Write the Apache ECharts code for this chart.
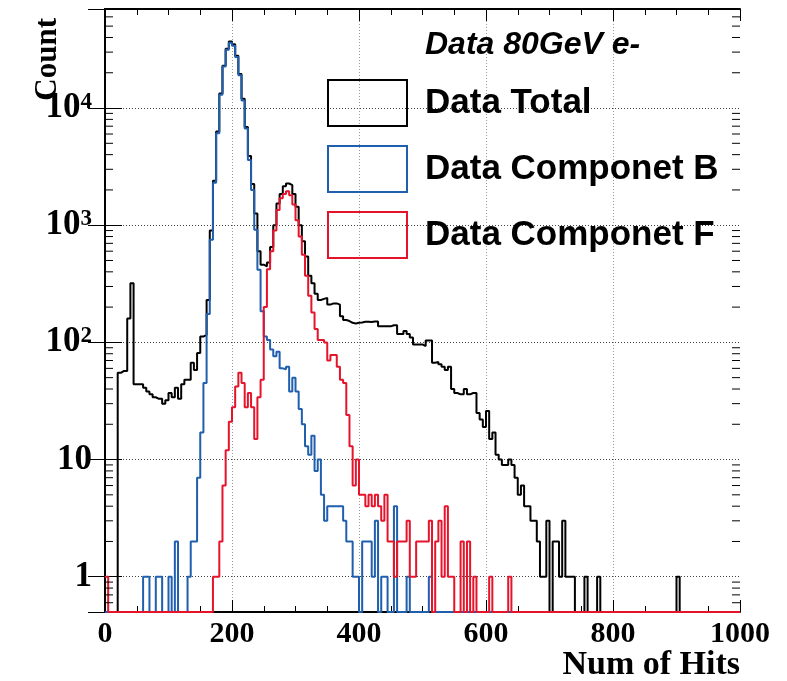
<!DOCTYPE html>
<html>
<head>
<meta charset="utf-8">
<script src="https://cdn.jsdelivr.net/npm/echarts@6/dist/echarts.min.js"></script>
<style>html,body{margin:0;padding:0;background:#fff}#c{width:787px;height:681px}</style>
</head>
<body>
<div id="c"></div>
<script>
// ---- data: 200 bins of width 5 from 0 to 1000 ----
const binWidth = 5;
const binStarts = [];
for (let i = 0; i < 200; i++) binStarts.push(i * binWidth);

const totalCounts = [
  0,0,0,0,55,57,57,160,320,44, 44,44,41,38,36,34,33,33,30,32,
  37,34,41,33,44,48,48,67,58,81, 112,116,230,900,2400,6300,13300,23000,32000,37000,
  35000,28000,19500,12000,6900,3900,2250,1260,600,460, 445,480,650,1000,1530,1850,2150,2270,2200,1850,
  1440,1000,730,540,370,320,260,230,235,240, 210,215,215,210,167,155,152,147,145,147,
  148,150,150,149,151,151,137,137,137,137, 140,140,118,118,125,118,110,96,96,96,
  93,104,104,67,68,65,62,58,62,40, 37,36,36,40,36,37,37,25,22,19,
  26,15,17,11,10,9,9,10,9,7, 5,6,4,4,3,3,2,1,1,3,
  0,2,2,1,3,1,1,1,0,0, 0,1,0,0,0,1,0,0,0,0,
  0,0,0,0,0,0,0,0,0,0, 0,0,0,0,0,0,0,0,0,0,
  1,0,0,0,0,0,0,0,0,0, 0,0,0,0,0,0,0,0,0,0
];
const compBCounts = [
  0,0,0,0,0,0,0,0,0,0, 0,0,1,1,0,0,1,1,0,0,
  1,0,2,0,0,0,1,2,2,7, 17,45,175,750,2300,6100,13000,22600,31400,36000,
  34000,27200,19000,11600,6680,3600,2000,913,417,184, 112,105,87,76,83,60,59,62,38,50,
  38,27,20,13,11,16,8,10,5,3, 4,4,4,4,4,3,2,2,1,1,
  0,2,2,2,1,3,0,1,1,0, 0,4,0,0,0,1,0,0,0,0,
  0,0,1,0,0,0,0,0,0,0, 0,0,0,0,0,0,0,0,0,0,
  0,0,0,0,0,0,0,0,0,0, 0,0,0,0,0,0,0,0,0,0,
  0,0,0,0,0,0,0,0,0,0, 0,0,0,0,0,0,0,0,0,0,
  0,0,0,0,0,0,0,0,0,0, 0,0,0,0,0,0,0,0,0,0,
  0,0,0,0,0,0,0,0,0,0, 0,0,0,0,0,0,0,0,0,0
];
const compFCounts = [
  1,0,0,0,0,0,0,0,0,0, 0,0,0,0,0,0,0,0,0,0,
  0,0,0,0,0,0,0,0,0,0, 0,0,0,0,1,1,2,6,12,21,
  28,42,55,45,28,37,28,15,34,48, 200,420,600,900,1350,1700,1850,1950,1800,1500,
  1100,800,560,370,250,180,130,105,105,100, 70,78,78,62,48,45,24,13,6,10,
  5,5,4,5,4,5,4,3,5,2, 2,1,2,2,2,3,1,1,2,2,
  2,2,3,0,2,3,1,4,1,1, 0,0,2,0,2,0,1,0,0,0,
  0,1,0,0,0,0,0,1,0,0, 0,0,0,0,0,0,0,0,0,0,
  0,0,0,0,0,0,0,0,0,0, 0,0,0,0,0,0,0,0,0,0,
  0,0,0,0,0,0,0,0,0,0, 0,0,0,0,0,0,0,0,0,0,
  0,0,0,0,0,0,0,0,0,0, 0,0,0,0,0,0,0,0,0,0
];
const seriesNames = ['Data Total', 'Data Componet B', 'Data Componet F'];
const seriesColors = ['#000000', '#1f5fae', '#e5142b'];
const yDecades = [1, 10, 100, 1000, 10000];
const yMinorMultipliers = [2, 3, 4, 5, 6, 7, 8, 9];
const xTickValues = [0, 200, 400, 600, 800, 1000];
const titleText = 'Data 80GeV e-';
const xTitle = 'Num of Hits';
const yTitle = 'Count';

// ---- build ----
const yMin = 0.5, yMax = 70000;
const serif = "'Liberation Serif','Times New Roman',serif";
const sans = "'Liberation Sans',Arial,sans-serif";

function toSteps(counts) {
  const pts = counts.map((c, i) => [binStarts[i], c > 0 ? c : yMin]);
  pts.push([binStarts[binStarts.length - 1] + binWidth, pts[pts.length - 1][1]]);
  return pts;
}
const yMinorTicks = [0.6, 0.7, 0.8, 0.9];
yDecades.forEach(d => yMinorMultipliers.forEach(m => { const v = d * m; if (v < yMax) yMinorTicks.push(v); }));

function yLabel(v) {
  const l = Math.log10(v);
  const e = Math.round(l);
  if (Math.abs(l - e) > 1e-6 || e < 0) return '';
  if (e === 0) return '1';
  if (e === 1) return '10';
  return '10{s|' + e + '}';
}

const frameLine = { show: true, lineStyle: { color: '#000', width: 2 } };

const chart = echarts.init(document.getElementById('c'), null, { renderer: 'canvas' });
chart.setOption({
  animation: false,
  backgroundColor: '#fff',
  title: {
    text: titleText, left: 425, top: 29, padding: 0,
    textStyle: { fontSize: 32, fontStyle: 'italic', fontWeight: 'bold', fontFamily: sans, color: '#000' }
  },
  legend: {
    orient: 'vertical', left: 327, top: 79, padding: 0,
    itemWidth: 79, itemHeight: 46, itemGap: 18, icon: 'rect', selectedMode: false,
    data: seriesNames.map((n, i) => ({ name: n, itemStyle: { color: 'rgba(255,255,255,0)', borderColor: seriesColors[i], borderWidth: 2 } })),
    formatter: n => '{t|' + n + '}',
    textStyle: { rich: { t: { fontSize: 35, fontWeight: 'bold', fontFamily: sans, color: '#000', padding: [0, 0, 0, 13], lineHeight: 40 } } }
  },
  grid: { left: 105, right: 47, top: 9, bottom: 69, containLabel: false, outerBoundsMode: 'none' },
  xAxis: [{
    type: 'value', min: 0, max: 1000, interval: 200, position: 'bottom',
    axisLine: frameLine,
    axisTick: { show: true, inside: true, length: 12, lineStyle: { color: '#000', width: 1 } },
    minorTick: { show: true, splitNumber: 4, length: 6, lineStyle: { color: '#000', width: 1 } },
    splitLine: { show: true, showMinLine: false, showMaxLine: false, lineStyle: { color: '#999', width: 1, type: [1, 2] } },
    axisLabel: { show: true, margin: 7, fontSize: 30, fontWeight: 'bold', fontFamily: serif, color: '#000',
      formatter: v => (xTickValues.indexOf(v) >= 0 ? String(v) : '') },
    name: xTitle, nameLocation: 'end', nameGap: 0, nameMoveOverlap: false,
    nameTextStyle: { fontSize: 34, fontWeight: 'bold', fontFamily: serif, color: '#000', align: 'right', verticalAlign: 'top', padding: [36, 0, 0, 0] }
  }, {
    type: 'value', min: 0, max: 1000, interval: 200, position: 'top',
    axisLine: frameLine,
    axisTick: { show: true, inside: true, length: 12, lineStyle: { color: '#000', width: 1 } },
    minorTick: { show: true, splitNumber: 4, length: 6, lineStyle: { color: '#000', width: 1 } },
    splitLine: { show: false }, axisLabel: { show: false }
  }],
  yAxis: [{
    type: 'log', logBase: 10, min: yMin, max: yMax, position: 'left',
    axisLine: frameLine,
    axisTick: { show: true, inside: true, length: 17, lineStyle: { color: '#000', width: 1 } },
    splitLine: { show: true, showMinLine: false, showMaxLine: false, lineStyle: { color: '#444', width: 1, type: [1, 2] } },
    axisLabel: {
      show: true, margin: 13, fontSize: 35, fontWeight: 'bold', fontFamily: serif, color: '#000',
      formatter: yLabel,
      rich: { s: { fontSize: 23, fontWeight: 'bold', fontFamily: serif, color: '#000', verticalAlign: 'top' } }
    },
    name: yTitle, nameLocation: 'end', nameGap: -9, nameRotate: 90, nameMoveOverlap: false,
    nameTextStyle: { fontSize: 31, fontWeight: 'bold', fontFamily: serif, color: '#000', align: 'right', verticalAlign: 'bottom', padding: [0, 0, 42, 0] }
  }, {
    type: 'log', logBase: 10, min: yMin, max: yMax, position: 'right',
    axisLine: frameLine,
    axisTick: { show: true, inside: true, length: 17, lineStyle: { color: '#000', width: 1 } },
    splitLine: { show: false }, axisLabel: { show: false }
  }],
  series: [
    ...[totalCounts, compBCounts, compFCounts].map((counts, i) => ({
      name: seriesNames[i], type: 'line', step: 'end', xAxisIndex: 0, yAxisIndex: 0,
      data: toSteps(counts), symbol: 'none', showSymbol: false,
      lineStyle: { color: seriesColors[i], width: 2 }, itemStyle: { color: seriesColors[i] },
      z: 3 + i
    })),
    {
      name: 'yMinorTicks', type: 'custom', xAxisIndex: 0, yAxisIndex: 0, silent: true, z: 10,
      data: yMinorTicks.map(v => [0, v]),
      renderItem: (params, api) => {
        const v = api.value(1);
        const l = api.coord([0, v]);
        const r = api.coord([1000, v]);
        return { type: 'group', children: [
          { type: 'line', shape: { x1: l[0], y1: l[1], x2: l[0] + 8, y2: l[1] }, style: { stroke: '#000', lineWidth: 1 } },
          { type: 'line', shape: { x1: r[0] - 8, y1: r[1], x2: r[0], y2: r[1] }, style: { stroke: '#000', lineWidth: 1 } }
        ] };
      }
    }
  ]
});
</script>
</body>
</html>
